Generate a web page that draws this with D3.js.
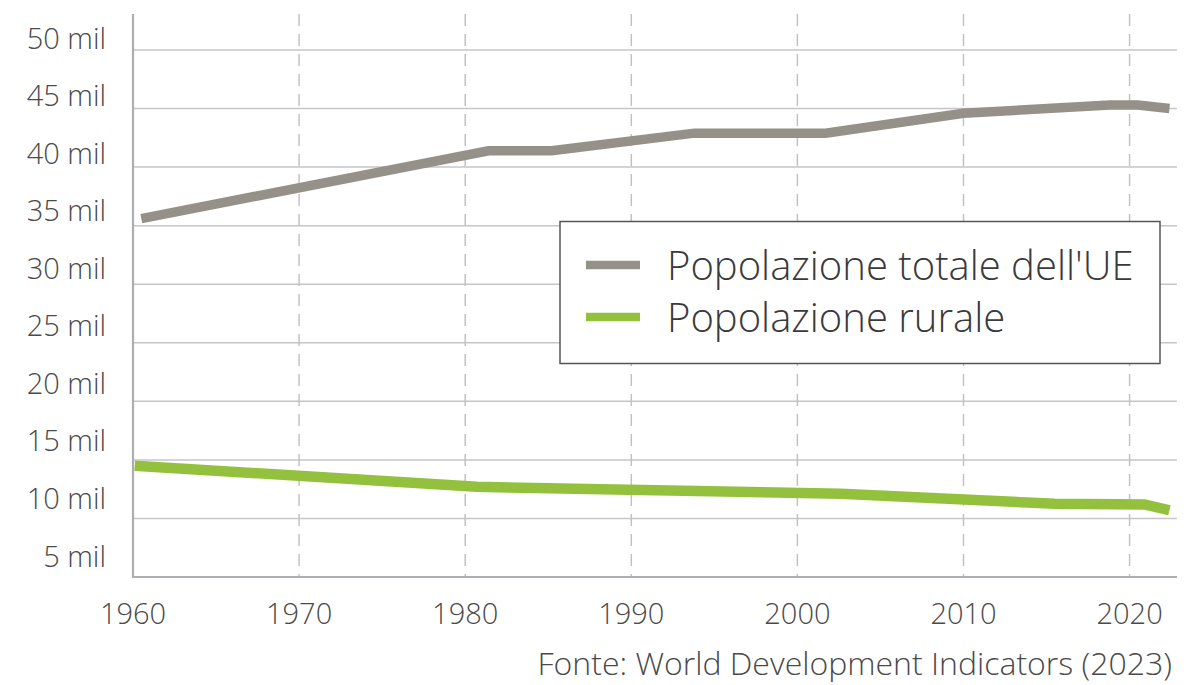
<!DOCTYPE html>
<html><head><meta charset="utf-8">
<script src="https://cdn.jsdelivr.net/npm/d3@7"></script>
<style>
html,body{margin:0;padding:0;background:#fff;}
svg{display:block;font-family:"Open Sans",sans-serif;font-weight:300;}
</style></head>
<body><svg id="c" width="1199" height="685"></svg>
<script>
// ---- data ----
const xTicks = [1960, 1970, 1980, 1990, 2000, 2010, 2020];
const yTicks = [5, 10, 15, 20, 25, 30, 35, 40, 45, 50];
const yTickLabels = ["5 mil","10 mil","15 mil","20 mil","25 mil","30 mil","35 mil","40 mil","45 mil","50 mil"];
const totalYears  = [1960.5, 1981.4, 1985.2, 1993.8, 2001.7, 2010.0, 2018.8, 2020.5, 2022.4];
const totalValues = [35.6,   41.4,   41.4,   42.9,   42.9,   44.6,   45.3,   45.3,   45.0];
const ruralYears  = [1960.1, 1980.7, 2002.6, 2015.5, 2020.9, 2022.4];
const ruralValues = [14.5,   12.7,   12.1,   11.25,  11.2,   10.7];
const seriesNames = ["Popolazione totale dell'UE", "Popolazione rurale"];
const seriesColors = ["#959189", "#93c13e"];
const sourceText = "Fonte: World Development Indicators (2023)";

// ---- layout ----
const svg = d3.select("#c");
const x = d3.scaleLinear().domain([1960, 2020]).range([133, 1129.6]);
const y = d3.scaleLinear().domain([5, 50]).range([577, 50]);
const yLab = d3.scaleLinear().domain([5, 50]).range([555, 37]);
const xMin = 1960, xMax = 2022.85, yMin = 5, yMax = 53.08;
const textColor = "#4a4a4a";

// horizontal grid
svg.append("g").selectAll("line").data(yTicks.filter(v => v > 5)).join("line")
  .attr("x1", x(xMin)).attr("x2", x(xMax))
  .attr("y1", d => y(d)).attr("y2", d => y(d))
  .attr("stroke", "#c6c6ca").attr("stroke-width", 1.5);

// vertical dashed grid
svg.append("g").selectAll("line").data(xTicks.filter(v => v > 1960)).join("line")
  .attr("x1", d => x(d)).attr("x2", d => x(d))
  .attr("y1", y(yMax)).attr("y2", y(yMin))
  .attr("stroke", "#c2c2c6").attr("stroke-width", 1.5)
  .attr("stroke-dasharray", "12,8");

// axes lines
svg.append("line").attr("x1", x(xMin)).attr("x2", x(xMin))
  .attr("y1", y(yMax)).attr("y2", y(yMin) + 1)
  .attr("stroke", "#adadb2").attr("stroke-width", 2.2);
svg.append("line").attr("x1", x(xMin) - 1).attr("x2", x(xMax))
  .attr("y1", y(yMin)).attr("y2", y(yMin))
  .attr("stroke", "#adadb2").attr("stroke-width", 2.2);

// y labels
svg.append("g").selectAll("text").data(yTicks).join("text")
  .attr("x", 106).attr("y", d => yLab(d))
  .attr("text-anchor", "end").attr("dominant-baseline", "central")
  .attr("font-size", 29).attr("fill", textColor)
  .text((d, i) => yTickLabels[i]);

// x labels
svg.append("g").selectAll("text").data(xTicks).join("text")
  .attr("x", d => x(d)).attr("y", 612)
  .attr("text-anchor", "middle").attr("dominant-baseline", "central")
  .attr("font-size", 29).attr("fill", textColor)
  .text(d => d);

// lines
const line = d3.line().x(d => x(d[0])).y(d => y(d[1]));
const totalData = totalYears.map((t, i) => [t, totalValues[i]]);
const ruralData = ruralYears.map((t, i) => [t, ruralValues[i]]);
svg.append("path").attr("d", line(totalData)).attr("fill", "none")
  .attr("stroke", seriesColors[0]).attr("stroke-width", 9.5)
  .attr("stroke-linejoin", "miter");
svg.append("path").attr("d", line(ruralData)).attr("fill", "none")
  .attr("stroke", seriesColors[1]).attr("stroke-width", 10.5)
  .attr("stroke-linejoin", "miter");

// legend
const lg = svg.append("g");
lg.append("rect").attr("x", 560).attr("y", 221.5).attr("width", 600).attr("height", 142)
  .attr("fill", "#fff").attr("stroke", "#555").attr("stroke-width", 1.5);
seriesNames.forEach((n, i) => {
  const cy = 265 + i * 52;
  lg.append("line").attr("x1", 586).attr("x2", 640).attr("y1", cy).attr("y2", cy)
    .attr("stroke", seriesColors[i]).attr("stroke-width", 8.5);
  lg.append("text").attr("x", 667).attr("y", cy - 1).attr("dominant-baseline", "central")
    .attr("font-size", 40).attr("fill", "#3a3a3a").text(n);
});

// source
svg.append("text").attr("x", 1172).attr("y", 662)
  .attr("text-anchor", "end").attr("dominant-baseline", "central")
  .attr("font-size", 32).attr("fill", textColor).text(sourceText);
</script>
</body></html>
